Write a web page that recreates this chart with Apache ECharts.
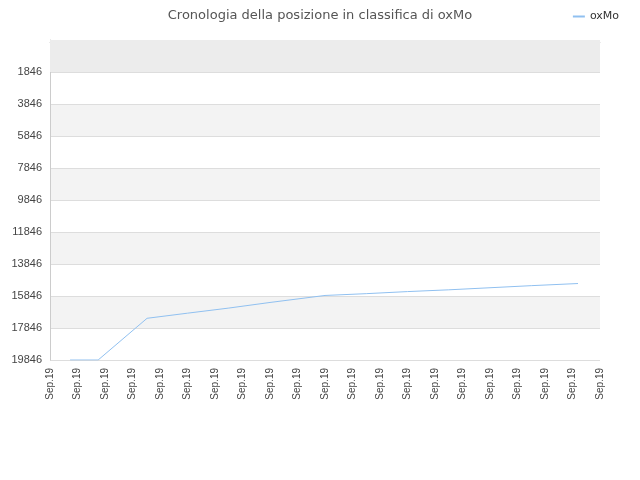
<!DOCTYPE html>
<html><head><meta charset="utf-8">
<script src="https://cdn.jsdelivr.net/npm/echarts@6/dist/echarts.min.js"></script>
<style>html,body{margin:0;padding:0}#c{width:640px;height:480px}</style>
</head><body><div id="c"></div>
<script>
const xLabels = Array(21).fill('Sep.19');
const xs = [0.73, 1.75, 3.53, 5, 6.5, 8, 10, 11.5, 13, 14.5, 16, 17.5, 19.2];
const ranks = [19846, 19846, 17239, 16920, 16600, 16250, 15812, 15700, 15570, 15460, 15330, 15200, 15066];
const data = xs.map((x, i) => [x, ranks[i]]);
const chart = echarts.init(document.getElementById('c'));
chart.setOption({
  animation: false,
  title: { text: 'Cronologia della posizione in classifica di oxMo', left: 'center', top: 4,
    textStyle: { fontSize: 13, fontWeight: 'normal', color: '#555', fontFamily: 'DejaVu Sans' } },
  legend: { right: 16, top: 6, itemWidth: 12, itemHeight: 2, icon: 'rect',
    textStyle: { fontSize: 11, color: '#333', fontFamily: 'DejaVu Sans' }, data: ['oxMo'] },
  grid: { left: 50, right: 40, top: 40, bottom: 120 },
  xAxis: { type: 'value', min: 0, max: 20, interval: 1,
    axisLine: { lineStyle: { color: '#ccc' } }, axisTick: { show: false },
    splitLine: { show: false },
    axisLabel: { rotate: 90, fontSize: 10, color: '#444', formatter: (v) => xLabels[v] } },
  yAxis: { type: 'value', inverse: true, min: -154, max: 19846, interval: 2000,
    axisLine: { show: true, lineStyle: { color: '#ccc' } }, axisTick: { show: false },
    axisLabel: { fontSize: 11, color: '#444', formatter: v => v < 0 ? '' : v },
    splitLine: { lineStyle: { color: '#ddd' } },
    splitArea: { show: true, areaStyle: { color: ['#f3f3f3', '#ffffff'] } } },
  series: [{ name: 'oxMo', type: 'line', data: data, symbol: 'none',
    lineStyle: { color: '#90c0f0', width: 1 }, itemStyle: { color: '#90c0f0' },
    markArea: { silent: true, itemStyle: { color: '#ececec' }, data: [[{ yAxis: -154 }, { yAxis: 1846 }]] } }]
});
</script></body></html>
